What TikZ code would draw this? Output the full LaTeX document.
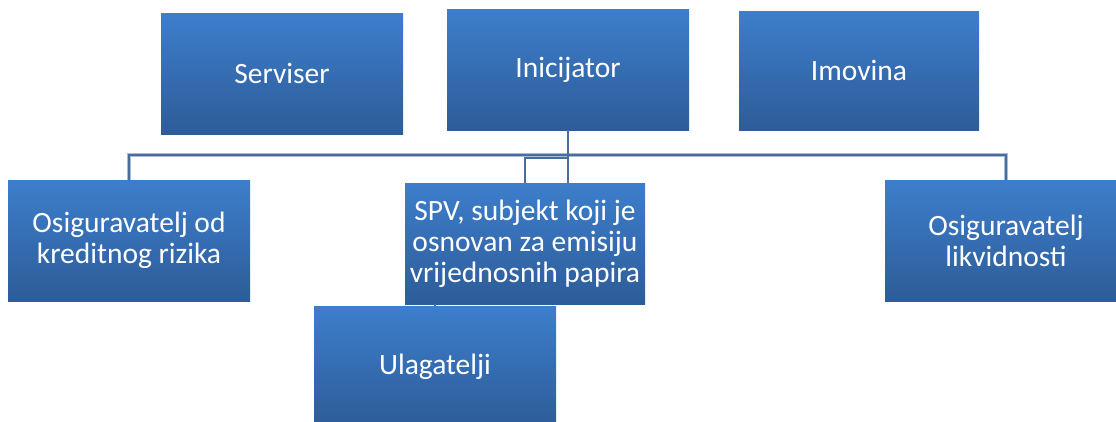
\documentclass[tikz,border=0pt]{standalone}
\usepackage{fontspec}
\setmainfont{Carlito}
\definecolor{boxtop}{RGB}{61,126,204}
\definecolor{boxbot}{RGB}{45,92,152}
\definecolor{connc}{RGB}{72,108,156}
\definecolor{connl}{RGB}{170,188,212}
\begin{document}
\begin{tikzpicture}[x=1pt,y=-1pt,
  box/.style={anchor=north west, inner sep=0pt, outer sep=0pt,
    minimum width=242pt, minimum height=121pt,
    top color=boxtop, bottom color=boxbot, text=white, align=center,
    font=\fontsize{29.5}{31}\selectfont},
  conn/.style={draw=connc, line width=2pt},
  connbg/.style={draw=connl, line width=3.6pt}]
\useasboundingbox (0,0) rectangle (1116,421);
\begin{scope}
\clip (0,0) rectangle (1116,421);
\node[box] (serv) at (161,13) {Serviser};
\node[box] (ini) at (447,9) {Inicijator};
\node[box, minimum width=240pt, minimum height=119pt] (imo) at (739,11) {Imovina};
\node[box] (cred) at (8,180) {Osiguravatelj od\\kreditnog rizika};
\node[box, minimum width=240pt] (spv) at (405,183) {SPV, subjekt koji je\\osnovan za emisiju\\vrijednosnih papira};
\node[box] (liq) at (885,180) {Osiguravatelj\\likvidnosti};
\node[box] (ulag) at (314,306) {Ulagatelji};
\coordinate (busL) at (129,155);
\coordinate (brkin) at (525,183);
\coordinate (brk) at (568,158);
\draw[connbg] (cred.north -| busL) -- (busL) -| (liq.north);
\draw[conn] (cred.north -| busL) -- (busL) -| (liq.north);
\draw[conn] (brkin) |- (brk);
\draw[conn] (ini.south) -- (spv.north -| ini.south);
\draw[conn] (spv.south -| ulag.north) -- (ulag.north);
\end{scope}
\end{tikzpicture}
\end{document}
